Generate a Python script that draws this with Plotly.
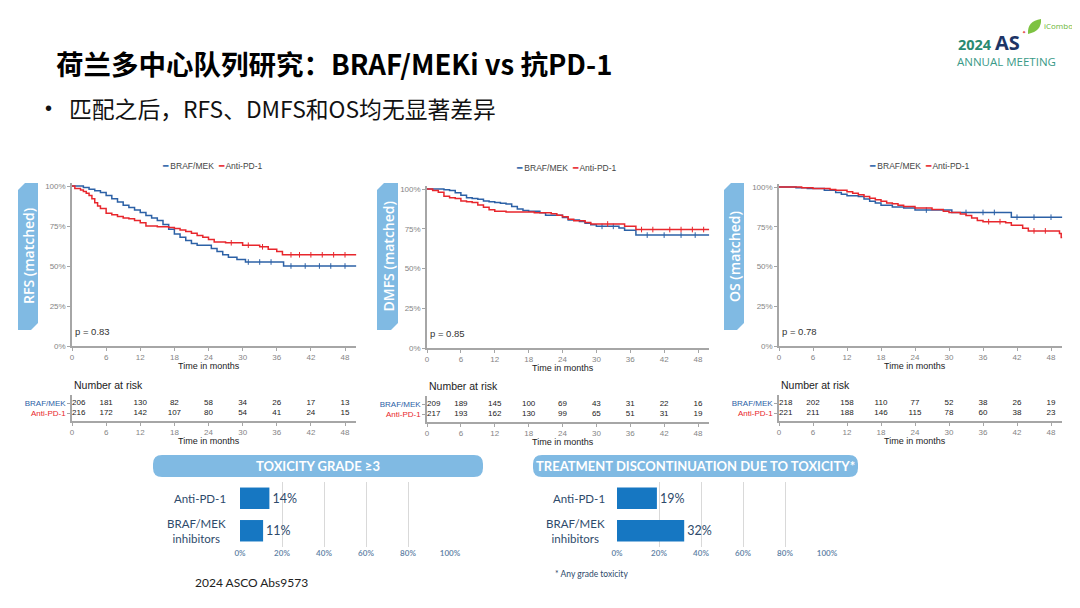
import bisect
import plotly.graph_objects as go

W, H = 1080, 608
OFF = 8  # page body margin offset of the rendered figure
def px(x): return (x - OFF) / W
def py(y): return 1 - (y - OFF) / H

BLUE = '#2c61a6'
RED = '#e8262c'
TAB = '#80bae3'
GRAY = '#a6a6a6'
TICKC = '#858585'
BARC = '#1677c2'
NAVYT = '#2e4a6b'

# ---------------- data ----------------
month_ticks = [0, 6, 12, 18, 24, 30, 36, 42, 48]
pct_ticks = [0, 0.25, 0.5, 0.75, 1.0]
pct_labels = ['0%', '25%', '50%', '75%', '100%']

# RFS
rfs_braf_t = [0, 2, 3, 4, 5, 6, 7, 8, 9, 10, 11, 12, 13, 14, 15, 16, 17, 18, 19, 20, 21, 22, 24.5, 25.5, 26.5, 27.5, 29, 30.5, 37.2, 50]
rfs_braf_s = [1, .99, .98, .97, .96, .94, .92, .90, .88, .865, .85, .835, .815, .80, .785, .76, .73, .70, .68, .66, .64, .63, .61, .59, .57, .555, .54, .525, .50, .50]
rfs_anti_t = [0, 0.5, 1.5, 2, 2.5, 3, 3.5, 4, 4.5, 5, 6, 7, 8, 9, 10, 11, 12, 13, 15, 17, 18, 19, 20, 21, 22, 23, 24, 25, 27, 30, 33, 34.5, 36, 37, 50]
rfs_anti_s = [1, .985, .975, .965, .955, .94, .92, .895, .875, .86, .83, .82, .81, .80, .795, .785, .77, .75, .745, .74, .735, .725, .715, .705, .69, .68, .665, .65, .645, .63, .62, .605, .59, .57, .57]
rfs_braf_cens = [31, 33, 35, 38.5, 41, 43.5, 45.5, 48]
rfs_anti_cens = [28, 31, 33.5, 38.5, 40, 42, 44, 46, 48]
# DMFS
dmfs_braf_t = [0, 3, 4, 5, 6, 7, 8, 9, 10, 11, 12, 13, 14, 15, 16, 17, 18, 20, 21, 24, 25, 27, 28, 29, 30, 34, 35, 37, 50]
dmfs_braf_s = [1, .995, .99, .977, .96, .945, .94, .935, .925, .92, .915, .91, .905, .89, .875, .865, .86, .85, .835, .82, .805, .795, .785, .775, .765, .755, .74, .71, .71]
dmfs_anti_t = [0, 1, 2, 3, 4, 5, 6, 7, 8, 9, 10, 11, 12, 14, 19, 22, 23, 24, 25, 26, 28, 29, 35, 37, 50]
dmfs_anti_s = [1, .99, .98, .955, .945, .94, .925, .92, .915, .90, .885, .87, .86, .855, .85, .845, .835, .825, .81, .80, .79, .78, .765, .745, .745]
dmfs_braf_cens = [31, 33, 39, 42, 45, 47.5]
dmfs_anti_cens = [32, 38, 40, 43, 45, 47, 49]
# OS
os_braf_t = [0, 3, 5, 8, 10, 11, 12, 14, 15, 16, 17, 18, 20, 22, 24, 30.5, 41, 50]
os_braf_s = [1, .995, .99, .98, .965, .955, .945, .94, .925, .91, .90, .885, .875, .868, .855, .84, .81, .81]
os_anti_t = [0, 4, 6, 9, 10, 12, 13, 14, 15, 16, 17, 18, 19, 20, 21, 22, 24, 27, 29, 30, 32, 33, 34, 35, 36, 40, 41, 43, 44, 49.5, 49.8, 50]
os_anti_s = [1, .995, .99, .985, .98, .97, .96, .952, .94, .93, .92, .91, .90, .895, .885, .878, .868, .858, .848, .84, .83, .82, .805, .79, .782, .775, .76, .74, .724, .707, .682, .682]
os_braf_cens = [26, 33, 36, 38, 42, 45, 48]
os_anti_cens = [37, 39, 45, 47]

# number at risk
risk_times = [0, 6, 12, 18, 24, 30, 36, 42, 48]
rfs_risk_braf = [206, 181, 130, 82, 58, 34, 26, 17, 13]
rfs_risk_anti = [216, 172, 142, 107, 80, 54, 41, 24, 15]
dmfs_risk_braf = [209, 189, 145, 100, 69, 43, 31, 22, 16]
dmfs_risk_anti = [217, 193, 162, 130, 99, 65, 51, 31, 19]
os_risk_braf = [218, 202, 158, 110, 77, 52, 38, 26, 19]
os_risk_anti = [221, 211, 188, 146, 115, 78, 60, 38, 23]

series_names = ['BRAF/MEK', 'Anti-PD-1']
endpoint_labels = ['RFS (matched)', 'DMFS (matched)', 'OS (matched)']
p_values = ['p = 0.83', 'p = 0.85', 'p = 0.78']

# bars
bar_groups = ['Anti-PD-1', 'BRAF/MEK<br>inhibitors']
tox_grade3 = [14, 11]
discontinuation = [19, 32]
bar_ticks = [0, 20, 40, 60, 80, 100]
bar_tick_labels = ['0%', '20%', '40%', '60%', '80%', '100%']

# ---------------- layout geometry (pixels) ----------------
panels = [
    dict(label=endpoint_labels[0], p=p_values[0], x0=72, x48=345, ytop=186, ybot=346, tbl=421,
         tab=(18, 38), leg_y=166,
         curves=[(rfs_braf_t, rfs_braf_s, rfs_braf_cens), (rfs_anti_t, rfs_anti_s, rfs_anti_cens)],
         risk=[rfs_risk_braf, rfs_risk_anti]),
    dict(label=endpoint_labels[1], p=p_values[1], x0=427, x48=698, ytop=189, ybot=348, tbl=422,
         tab=(377, 398), leg_y=168,
         curves=[(dmfs_braf_t, dmfs_braf_s, dmfs_braf_cens), (dmfs_anti_t, dmfs_anti_s, dmfs_anti_cens)],
         risk=[dmfs_risk_braf, dmfs_risk_anti]),
    dict(label=endpoint_labels[2], p=p_values[2], x0=779, x48=1051, ytop=187, ybot=346, tbl=421,
         tab=(724, 744), leg_y=166,
         curves=[(os_braf_t, os_braf_s, os_braf_cens), (os_anti_t, os_anti_s, os_anti_cens)],
         risk=[os_risk_braf, os_risk_anti]),
]

def step_value(t, s, x):
    return s[bisect.bisect_right(t, x) - 1]

fig = go.Figure()
layout_axes = {}
annotations = []
shapes = []

def ann(x, y, text, font, xanchor='center', yanchor='middle', **kw):
    d = dict(x=px(x), y=py(y), xref='paper', yref='paper', text=text, font=font, showarrow=False,
             xanchor=xanchor, yanchor=yanchor)
    d.update(kw)
    annotations.append(d)

def axkey(c, n):
    return f'{c}axis' + ('' if n == 1 else str(n))

def axref(c, n):
    return c + ('' if n == 1 else str(n))

ARIAL = 'Liberation Sans, Arial'
tickfont = dict(family=ARIAL, size=8, color=TICKC)

for i, pn in enumerate(panels):
    nk = 2 * i + 1
    nt = 2 * i + 2
    xend = pn['x0'] + (pn['x48'] - pn['x0']) * 50 / 48
    ytop_ext = pn['ybot'] - (pn['ybot'] - pn['ytop']) * 1.02
    common_x = dict(range=[0, 50], tickvals=month_ticks, showline=True, linecolor=GRAY, linewidth=1.5,
                    ticks='outside', ticklen=3, tickcolor=GRAY, tickfont=tickfont, showgrid=False,
                    zeroline=False, fixedrange=True, domain=[px(pn['x0']), px(xend)])
    layout_axes[axkey('x', nk)] = dict(common_x, anchor=axref('y', nk))
    layout_axes[axkey('y', nk)] = dict(range=[0, 1.02], tickvals=pct_ticks, ticktext=pct_labels,
                                       showline=True, linecolor=GRAY, linewidth=1.5, ticks='outside',
                                       ticklen=3, tickcolor=GRAY, tickfont=tickfont, showgrid=False,
                                       zeroline=False, anchor=axref('x', nk),
                                       domain=[py(pn['ybot']), py(ytop_ext)])
    layout_axes[axkey('x', nt)] = dict(common_x, anchor=axref('y', nt))
    layout_axes[axkey('y', nt)] = dict(range=[0.2, 2.8], tickvals=[2, 1],
                                       ticktext=[f'<span style="color:{BLUE}">{series_names[0]}</span>',
                                                 f'<span style="color:{RED}">{series_names[1]}</span>'],
                                       showline=True, linecolor=GRAY, linewidth=1.5, ticks='outside',
                                       ticklen=3, tickcolor=GRAY,
                                       tickfont=dict(family=ARIAL, size=8),
                                       showgrid=False, zeroline=False, anchor=axref('x', nt),
                                       domain=[py(pn['tbl']), py(pn['tbl'] - 26)], fixedrange=True)
    # curves
    for (t, s, cens), col, nm in zip(pn['curves'], [BLUE, RED], series_names):
        fig.add_trace(go.Scatter(x=t, y=s, mode='lines', line=dict(color=col, width=1.5, shape='hv'),
                                 name=nm, showlegend=False,
                                 xaxis=axref('x', nk), yaxis=axref('y', nk)))
        fig.add_trace(go.Scatter(x=cens, y=[step_value(t, s, c) for c in cens], mode='markers',
                                 marker=dict(symbol='line-ns', size=4, line=dict(color=col, width=1)),
                                 showlegend=False, cliponaxis=False,
                                 xaxis=axref('x', nk), yaxis=axref('y', nk)))
    # risk table
    for row, vals in zip([2, 1], pn['risk']):
        fig.add_trace(go.Scatter(x=risk_times, y=[row] * len(vals), mode='text',
                                 text=[str(v) for v in vals],
                                 textposition=['middle right'] + ['middle center'] * (len(vals) - 1),
                                 textfont=dict(family=ARIAL, size=8, color='#222'),
                                 showlegend=False, cliponaxis=False,
                                 xaxis=axref('x', nt), yaxis=axref('y', nt)))
    xc = (pn['x0'] + pn['x48']) / 2
    # legend
    ann(xc + 4, pn['leg_y'],
        f'<span style="color:{BLUE}">━</span> {series_names[0]}  '
        f'<span style="color:{RED}">━</span> {series_names[1]}',
        dict(family=ARIAL, size=8.5, color='#444'))
    # p value
    ann(pn['x0'] + 1, pn['ybot'] - 15, pn['p'], dict(family=ARIAL, size=9.5, color='#333'), xanchor='left')
    # axis titles
    ann(xc, pn['ybot'] + 20, 'Time in months', dict(family=ARIAL, size=9, color='#222'))
    ann(xc, pn['tbl'] + 20, 'Time in months', dict(family=ARIAL, size=9, color='#222'))
    ann(pn['x0'], pn['tbl'] - 36, 'Number at risk', dict(family=ARIAL, size=10.5, color='#222'), xanchor='left')
    # side tab
    a, b = pn['tab']
    t0, t1, c = 183, 330, 7
    path = (f'M {px(a)},{py(t0 + c)} L {px(a + c)},{py(t0)} L {px(b)},{py(t0)} L {px(b)},{py(t1 - c)} '
            f'L {px(b - c)},{py(t1)} L {px(a)},{py(t1)} Z')
    shapes.append(dict(type='path', path=path, xref='paper', yref='paper', fillcolor=TAB, line=dict(width=0),
                       layer='below'))
    ann((a + b) / 2 + 0.5, (t0 + t1) / 2, pn['label'],
        dict(family='Open Sans', size=14, color='white', weight=600), textangle=-90)

# ---------------- bar charts ----------------
bar_specs = [
    dict(vals=tox_grade3, x0=240, x1=450, head=(153, 483), title='TOXICITY GRADE ≥3', lab_x=228, n=7),
    dict(vals=discontinuation, x0=617, x1=827, head=(533, 858),
         title='TREATMENT DISCONTINUATION DUE TO TOXICITY*', lab_x=607, n=8),
]

def rrect(x0, y0, x1, y1, r):
    P = lambda x, y: f'{px(x)},{py(y)}'
    return (f'M {P(x0 + r, y0)} L {P(x1 - r, y0)} Q {P(x1, y0)} {P(x1, y0 + r)} L {P(x1, y1 - r)} '
            f'Q {P(x1, y1)} {P(x1 - r, y1)} L {P(x0 + r, y1)} Q {P(x0, y1)} {P(x0, y1 - r)} '
            f'L {P(x0, y0 + r)} Q {P(x0, y0)} {P(x0 + r, y0)} Z')

for bs in bar_specs:
    n = bs['n']
    fig.add_trace(go.Bar(x=bs['vals'], y=bar_groups, orientation='h', marker=dict(color=BARC, line=dict(width=0)),
                         text=[f'{v}%' for v in bs['vals']], textposition='outside', cliponaxis=False,
                         textfont=dict(family='Lato', size=12.5, color=NAVYT), showlegend=False,
                         xaxis=axref('x', n), yaxis=axref('y', n)))
    layout_axes[axkey('x', n)] = dict(domain=[px(bs['x0']), px(bs['x1'])], range=[0, 100], tickvals=bar_ticks,
                                      ticktext=bar_tick_labels, showgrid=True, gridcolor='#d9d9d9', gridwidth=1,
                                      zeroline=False, showline=False, ticks='', anchor=axref('y', n),
                                      tickfont=dict(family='Lato', size=8, color='#5b7ea3', weight=600),
                                      fixedrange=True)
    layout_axes[axkey('y', n)] = dict(domain=[py(547), py(482)], autorange='reversed', type='category',
                                      showticklabels=False, showgrid=False, zeroline=False, showline=False,
                                      anchor=axref('x', n), fixedrange=True)
    for g in bar_groups:
        annotations.append(dict(x=px(bs['lab_x']), y=g, xref='paper', yref=axref('y', n), xanchor='right',
                                yanchor='middle', align='center', showarrow=False, text=g,
                                font=dict(family='Lato', size=11.5, color=NAVYT)))
    h0, h1 = bs['head']
    shapes.append(dict(type='path', path=rrect(h0, 455, h1, 477, 9), xref='paper', yref='paper',
                       fillcolor=TAB, line=dict(width=0), layer='below'))
    ann((h0 + h1) / 2, 466, bs['title'], dict(family='Lato', size=13, color='white', weight=700))

ann(193, 582, '2024 ASCO Abs9573', dict(family='Lato', size=12, color='#222'), xanchor='left')
ann(553, 574, '* Any grade toxicity', dict(family='Lato', size=8.5, color=NAVYT), xanchor='left')

# ---------------- titles & logo ----------------
ann(54, 63, '荷兰多中心队列研究：BRAF/MEKi vs 抗PD-1',
    dict(family='Noto Sans CJK SC', size=27.5, color='#000', weight=700), xanchor='left')
ann(43, 108, '•', dict(family=ARIAL, size=20, color='#111'), xanchor='left')
ann(67, 108, '匹配之后，RFS、DMFS和OS均无显著差异',
    dict(family='Noto Sans CJK SC', size=22.8, color='#111'), xanchor='left')
ann(956, 43, '<b><span style="color:#2a8a72">2024 </span>'
             '<span style="color:#1d3566;font-size:20px">AS</span></b>',
    dict(family='Open Sans', size=14.5), xanchor='left')
ann(1024, 32, '✦', dict(family='DejaVu Sans', size=5, color='#e03a3a'))
ann(955, 61, 'ANNUAL MEETING', dict(family='Open Sans', size=11.5, color='#3a9a88'), xanchor='left')
ann(1042, 25, 'iCombo', dict(family='Open Sans', size=8, color='#6bb536'), xanchor='left')
leaf = (f'M {px(1028)},{py(34)} Q {px(1027)},{py(21)} {px(1041)},{py(19)} '
        f'Q {px(1042)},{py(31)} {px(1028)},{py(34)} Z')
shapes.append(dict(type='path', path=leaf, xref='paper', yref='paper', fillcolor='#7dc242', line=dict(width=0)))

fig.update_layout(width=W, height=H, margin=dict(l=0, r=0, t=0, b=0, autoexpand=False), paper_bgcolor='white',
                  plot_bgcolor='rgba(0,0,0,0)', showlegend=False, bargap=0.34,
                  annotations=annotations, shapes=shapes, **layout_axes)

fig.write_html('out.html')
